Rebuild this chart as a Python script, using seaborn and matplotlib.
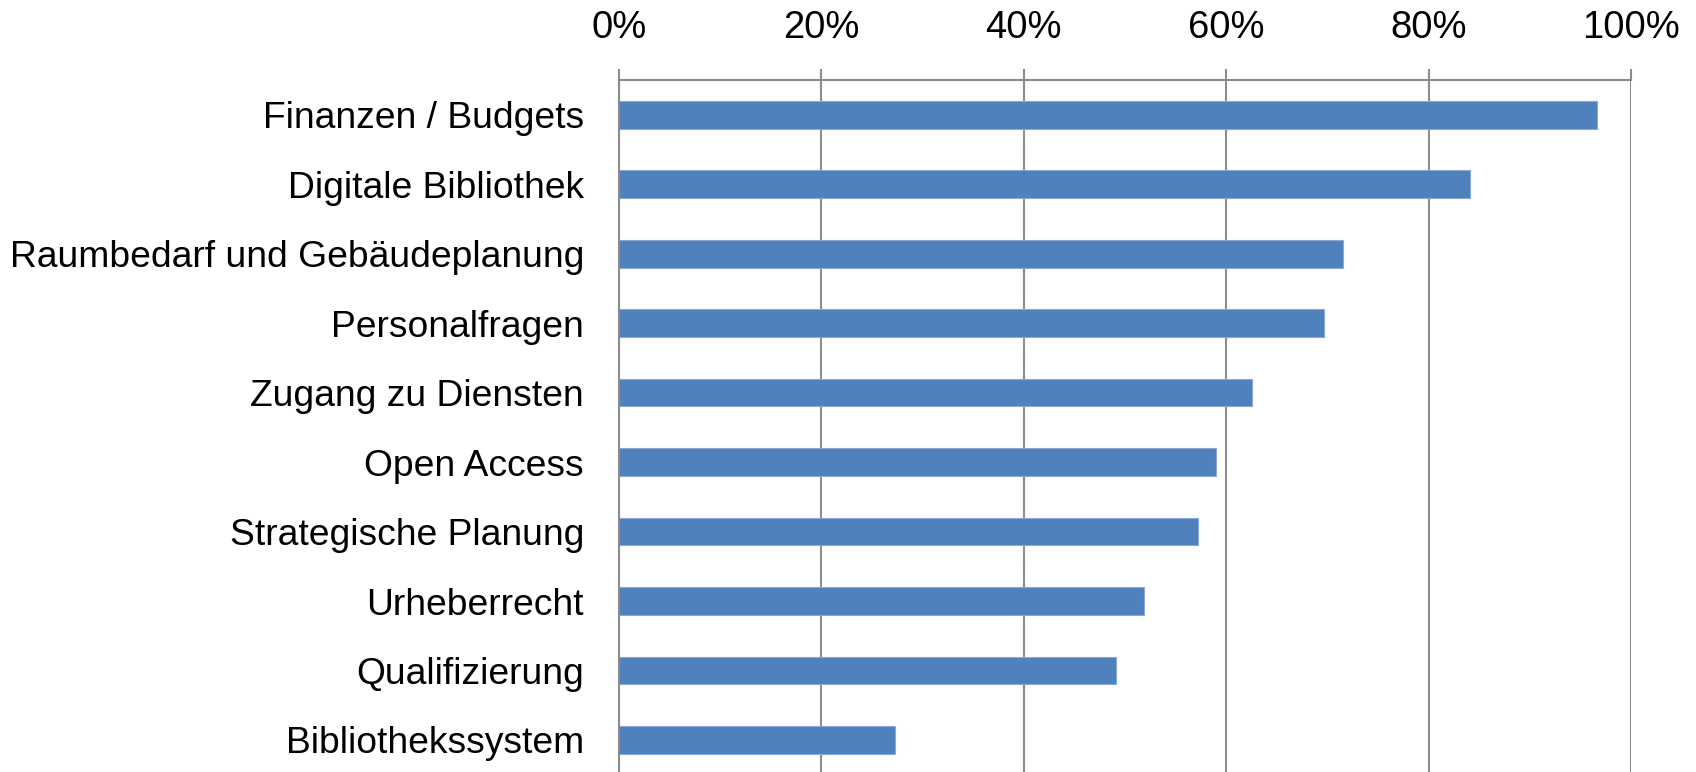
import matplotlib
matplotlib.use("Agg")
import matplotlib.pyplot as plt
import matplotlib.ticker as mticker
import seaborn as sns
import pandas as pd

# values (share in percent)
topics = ["Finanzen / Budgets", "Digitale Bibliothek", "Raumbedarf und Gebäudeplanung",
          "Personalfragen", "Zugang zu Diensten", "Open Access", "Strategische Planung",
          "Urheberrecht", "Qualifizierung", "Bibliothekssystem"]
shares = [96.6, 84.1, 71.5, 69.7, 62.6, 59.0, 57.2, 51.9, 49.1, 27.3]
xticks = [0, 20, 40, 60, 80, 100]

df = pd.DataFrame({"topic": topics, "share": shares})

sns.set_style("white")
plt.rcParams["font.family"] = ["Liberation Sans", "DejaVu Sans"]

grey = "#8c8c8c"
fig = plt.figure(figsize=(16.96, 7.72), dpi=100)
ax = fig.add_axes([0.3648, -0.0035, 0.5969, 0.8999])

sns.barplot(data=df, x="share", y="topic", orient="h", color="#4f81bd",
            saturation=1, width=0.4, edgecolor="#8aa9d6", linewidth=0.8, ax=ax)

ax.set_xlim(0, 100)
ax.set_ylim(9.5, -0.5)
ax.set_xticks(xticks)
ax.xaxis.set_major_formatter(mticker.FuncFormatter(lambda v, p: f"{v:.0f}%"))
ax.xaxis.tick_top()
ax.tick_params(axis="x", which="major", direction="out", length=8, width=1.5,
               color=grey, pad=16.5, labelsize=27.5, labelcolor="black")
ax.grid(axis="x", color=grey, linewidth=1.5)
ax.set_axisbelow(True)

# category labels centred, ticks between the categories
ax.set_yticks([i + 0.5 for i in range(-1, 10)], minor=True)
ax.tick_params(axis="y", which="major", length=0, pad=25, labelsize=26.8, labelcolor="black")
ax.tick_params(axis="y", which="minor", direction="out", length=8.4, width=1.5, color=grey)

ax.set_xlabel("")
ax.set_ylabel("")
for side in ["right", "bottom"]:
    ax.spines[side].set_visible(False)
for side in ["left", "top"]:
    ax.spines[side].set_color(grey)
    ax.spines[side].set_linewidth(1.5)

fig.savefig("out.png", dpi=100)
